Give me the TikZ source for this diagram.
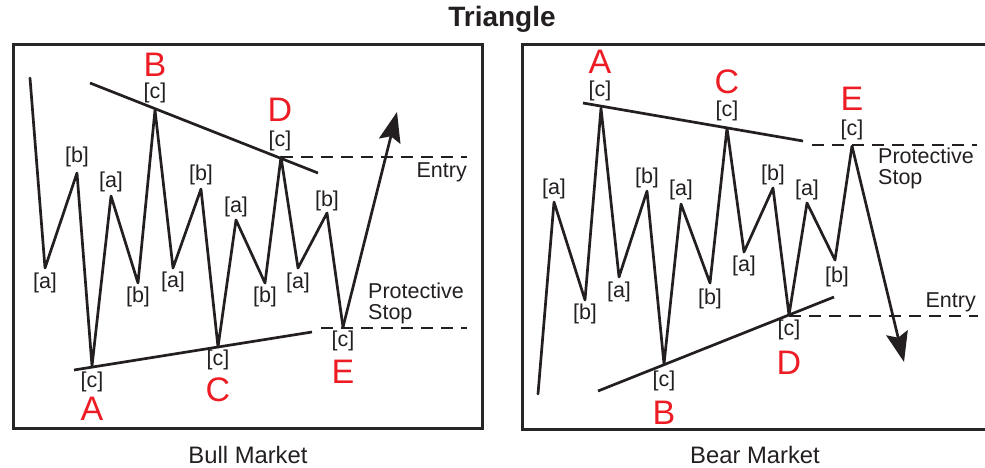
\documentclass[tikz,border=0pt]{standalone}
\usepackage{fontspec}
\setmainfont{Liberation Sans}
\usetikzlibrary{arrows.meta}
\definecolor{lblred}{RGB}{237,28,36}
\definecolor{ink}{RGB}{35,31,32}
\begin{document}
\begin{tikzpicture}[x=1pt,y=-1pt,
  wave/.style={line width=2.7pt, line join=round, line cap=round, draw=ink},
  trend/.style={line width=2.7pt, draw=ink},
  dashline/.style={line width=2.5pt, draw=ink, dash pattern=on 12pt off 8pt},
  lbl/.style={font=\fontsize{21.5}{23}\selectfont, text=ink, inner sep=0pt},
  ptlbl/.style={font=\fontsize{34}{36}\selectfont, text=lblred, inner sep=0pt},
  note/.style={font=\fontsize{21.5}{21}\selectfont, text=ink, inner sep=0pt, align=left},
  frame/.style={line width=3pt, draw=black!85},
  bigarrow/.style={line width=2.7pt, draw=ink, fill=ink, -{Stealth[length=30pt,width=22pt,inset=5pt]}},
  ttl/.style={font=\fontsize{28}{30}\selectfont\bfseries, text=ink, inner sep=0pt},
  sub/.style={font=\fontsize{23.8}{26}\selectfont, text=ink, inner sep=0pt}
]
\useasboundingbox (0,0) rectangle (985,467);

% frames
\draw[frame] (13,44) rectangle (482,428);
\draw[frame] (522,44) rectangle (990,429);

% title and captions
\node[ttl] (title) at (502,19) {Triangle};
\node[sub] (bull) at (248,455) {Bull Market};
\node[sub] (bear) at (755,455) {Bear Market};

% ---------------- Bull market ----------------
\coordinate (L0) at (30,78);
\coordinate (L1) at (45,268);
\coordinate (L2) at (77,173);
\coordinate (LA) at (92,366);
\coordinate (L3) at (111,196);
\coordinate (L4) at (138,283);
\coordinate (LB) at (155,110);
\coordinate (L5) at (173,268);
\coordinate (L6) at (201,189);
\coordinate (LC) at (218,347);
\coordinate (L7) at (236,220);
\coordinate (L8) at (265,283);
\coordinate (LD) at (281,157);
\coordinate (L9) at (298,268);
\coordinate (L10) at (327,213);
\coordinate (LE) at (343,327);
\coordinate (Ltip) at (397,112);
\coordinate (LU1) at (90,83);
\coordinate (LU2) at (318,173);
\coordinate (LL1) at (74,370);
\coordinate (LL2) at (312,332);
\coordinate (LEn) at (467,157);
\coordinate (LS1) at (321,328);
\coordinate (LS2) at (467,328);

\draw[trend] (LU1) -- (LU2);
\draw[trend] (LL1) -- (LL2);
\draw[dashline] (LD) -- (LEn);
\draw[dashline] (LS1) -- (LS2);
\draw[wave] (L0) -- (L1) -- (L2) -- (LA) -- (L3) -- (L4) -- (LB) -- (L5) -- (L6) -- (LC) -- (L7) -- (L8) -- (LD) -- (L9) -- (L10) -- (LE);
\draw[bigarrow] (LE) -- (Ltip);

\node[ptlbl] (tLB) at (155,64.5) {B};
\node[lbl] (cLB) at (155,93) {[c]};
\node[lbl] (bL2) at (77,157) {[b]};
\node[lbl] (aL3) at (111,182) {[a]};
\node[lbl] (bL6) at (201,175) {[b]};
\node[lbl] (aL7) at (236,207) {[a]};
\node[ptlbl] (tLD) at (280,110) {D};
\node[lbl] (cLD) at (280,141) {[c]};
\node[lbl] (bL10) at (327,201) {[b]};
\node[lbl] (aL1) at (45,283) {[a]};
\node[lbl] (bL4) at (138,297) {[b]};
\node[lbl] (aL5) at (173,282) {[a]};
\node[lbl] (cLA) at (92,382) {[c]};
\node[ptlbl] (tLA) at (92,409) {A};
\node[lbl] (cLC) at (218,360) {[c]};
\node[ptlbl] (tLC) at (218,390) {C};
\node[lbl] (bL8) at (265,297) {[b]};
\node[lbl] (aL9) at (298,283) {[a]};
\node[lbl] (cLE) at (343,341) {[c]};
\node[ptlbl] (tLE) at (343,372) {E};
\node[lbl, anchor=east] (entryL) at (467,172) {Entry};
\node[note, anchor=west] (stopL) at (368,303.5) {Protective\\Stop};

% ---------------- Bear market ----------------
\coordinate (R0) at (538,394);
\coordinate (R1) at (554,202);
\coordinate (R2) at (585,300);
\coordinate (RA) at (601,108);
\coordinate (R3) at (619,277);
\coordinate (R4) at (647,191);
\coordinate (RB) at (664,364);
\coordinate (R5) at (681,204);
\coordinate (R6) at (710,283);
\coordinate (RC) at (727,128);
\coordinate (R7) at (744,252);
\coordinate (R8) at (773,188);
\coordinate (RD) at (789,315);
\coordinate (R9) at (807,203);
\coordinate (R10) at (835,260);
\coordinate (RE) at (852,146);
\coordinate (Rtip) at (904,362);
\coordinate (RU1) at (583,103);
\coordinate (RU2) at (803,141);
\coordinate (RL1) at (598,391);
\coordinate (RL2) at (834,297);
\coordinate (RS1) at (812,145);
\coordinate (RS2) at (977,145);
\coordinate (REn) at (978,316);

\draw[trend] (RU1) -- (RU2);
\draw[trend] (RL1) -- (RL2);
\draw[dashline] (RS1) -- (RS2);
\draw[dashline] (RD |- REn) -- (REn);
\draw[wave] (R0) -- (R1) -- (R2) -- (RA) -- (R3) -- (R4) -- (RB) -- (R5) -- (R6) -- (RC) -- (R7) -- (R8) -- (RD) -- (R9) -- (R10) -- (RE);
\draw[bigarrow] (RE) -- (Rtip);

\node[ptlbl] (tRA) at (600,62) {A};
\node[lbl] (cRA) at (600,91) {[c]};
\node[lbl] (aR1) at (554,189) {[a]};
\node[lbl] (bR4) at (647,178) {[b]};
\node[lbl] (aR5) at (681,190) {[a]};
\node[ptlbl] (tRC) at (727,81.5) {C};
\node[lbl] (cRC) at (727,111) {[c]};
\node[lbl] (bR8) at (773,175) {[b]};
\node[lbl] (aR9) at (807,190) {[a]};
\node[ptlbl] (tRE) at (852,99) {E};
\node[lbl] (cRE) at (852,130) {[c]};
\node[lbl] (bR2) at (585,314) {[b]};
\node[lbl] (aR3) at (619,292) {[a]};
\node[lbl] (bR6) at (710,299) {[b]};
\node[lbl] (aR7) at (744,266) {[a]};
\node[lbl] (cRB) at (664,381) {[c]};
\node[ptlbl] (tRB) at (664,413) {B};
\node[lbl] (bR10) at (837,277) {[b]};
\node[lbl] (cRD) at (789,330) {[c]};
\node[ptlbl] (tRD) at (789,363) {D};
\node[note, anchor=west] (stopR) at (878,168.5) {Protective\\Stop};
\node[lbl, anchor=east] (entryR) at (976,302) {Entry};
\end{tikzpicture}
\end{document}
